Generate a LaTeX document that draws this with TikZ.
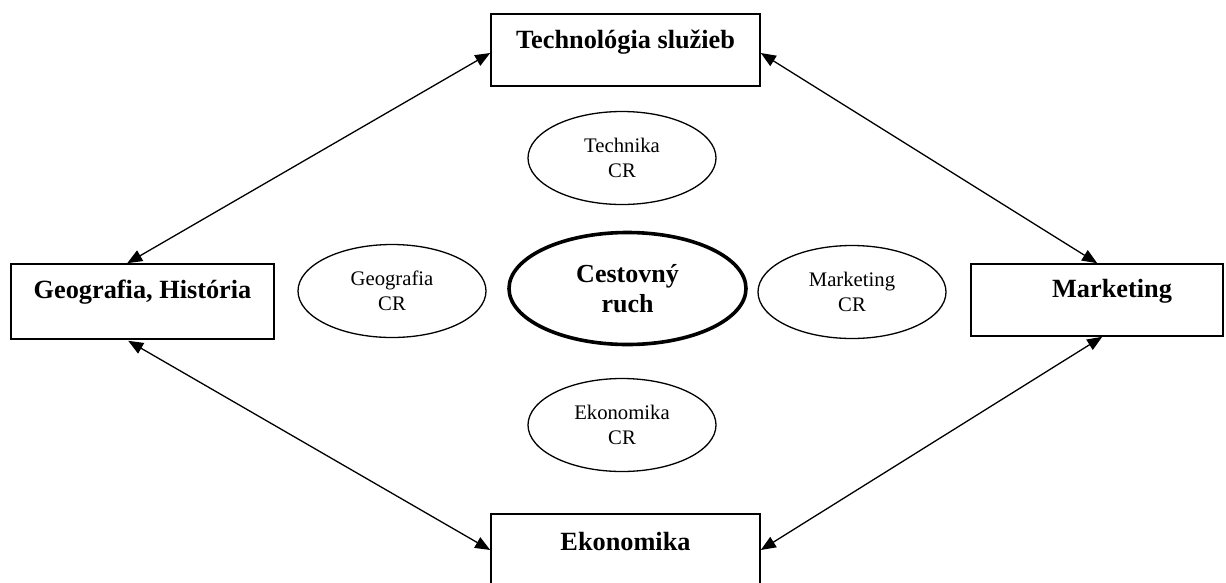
\documentclass[tikz,border=0pt]{standalone}
\usepackage{fontspec}
\setmainfont{Liberation Serif}
\usetikzlibrary{shapes.geometric,arrows.meta,calc}
\begin{document}
\begin{tikzpicture}[x=1pt,y=-1pt,
  box/.style={draw,line width=1.6pt,rectangle,inner sep=0pt},
  boxtext/.style={font=\fontsize{26.3}{30}\selectfont\bfseries,inner sep=0pt},
  oval/.style={draw,line width=1.3pt,ellipse,inner sep=0pt,minimum width=188pt,minimum height=93pt,align=center,font=\fontsize{20.7}{24.5}\selectfont},
  core/.style={draw,line width=3.6pt,ellipse,inner sep=0pt,minimum width=237pt,minimum height=112pt,align=center,font=\fontsize{26}{30}\selectfont\bfseries},
  arr/.style={line width=1.3pt,{Triangle[length=15pt,width=12pt]}-{Triangle[length=15pt,width=12pt]}}]
\useasboundingbox (0,0) rectangle (1226,582);
\clip (0,0) rectangle (1226,582);
% boxes
\node[box,minimum width=269pt,minimum height=72pt] (tech) at (625.5,50) {};
\node[boxtext] (techt) at ($(tech.north)+(0,29)$) {Technológia služieb};
\node[box,minimum width=263pt,minimum height=75pt] (geo) at (142.5,301.5) {};
\node[boxtext] (geot) at ($(geo.north)+(0,29)$) {Geografia, História};
\node[box,minimum width=252pt,minimum height=72pt] (mark) at (1097,300) {};
\node[boxtext] (markt) at ($(mark.north)+(15,28)$) {Marketing};
\node[box,minimum width=269pt,minimum height=72pt] (econ) at (625.5,550) {};
\node[boxtext] (econt) at ($(econ.north)+(0,28)$) {Ekonomika};
% ellipses
\node[oval] (techo) at (622,158) {Technika\\CR};
\node[oval] (geoo) at (392,291) {Geografia\\CR};
\node[oval] (marko) at (852,292) {Marketing\\CR};
\node[oval] (econo) at (622,425) {Ekonomika\\CR};
\node[core] (cr) at (627.5,288.5) {Cestovný\\ruch};
% connectors
\draw[arr] ($(tech.west)+(0,3)$) -- ($(geo.north west)+(117,0)$);
\draw[arr] ($(tech.east)+(0,3)$) -- ($(mark.north west)+(127,0)$);
\draw[arr] ($(geo.south west)+(118,1)$) -- (econ.west);
\draw[arr] ($(mark.south west)+(132,0)$) -- (econ.east);
\end{tikzpicture}
\end{document}
